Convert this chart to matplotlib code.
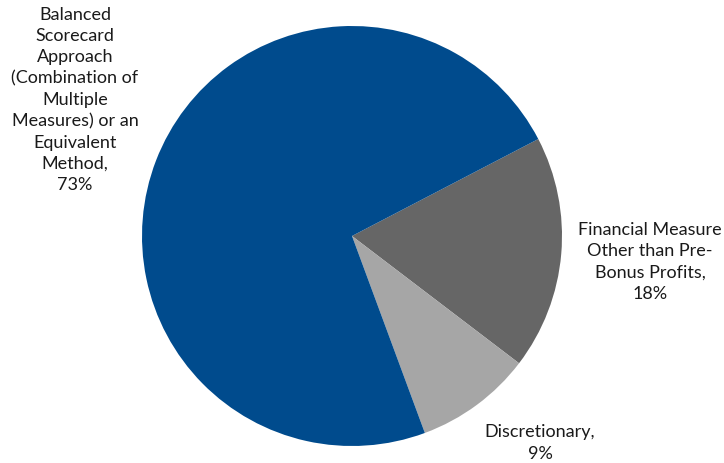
import matplotlib.pyplot as plt

labels = ["Financial Measure\nOther than Pre-\nBonus Profits,\n18%",
          "Discretionary,\n9%",
          "Balanced\nScorecard\nApproach\n(Combination of\nMultiple\nMeasures) or an\nEquivalent\nMethod,\n73%"]
values = [18, 9, 73]
colors = ["#666666", "#A6A6A6", "#004B8D"]

W, H = 724, 463
fig = plt.figure(figsize=(W / 100, H / 100), dpi=100)
plt.rcParams['font.family'] = ['Lato', 'DejaVu Sans']

# pie centre ~ (352, 236) px, radius ~210 px
ax = fig.add_axes([142 / W, (H - 446) / H, 420 / W, 420 / H])
ax.pie(values, colors=colors, startangle=27.5, counterclock=False,
       radius=1.0, wedgeprops=dict(linewidth=0))
ax.set_xlim(-1, 1)
ax.set_ylim(-1, 1)
ax.set_aspect('equal')
ax.set_axis_off()

# label positions in pixels (centre of text block)
label_pos = [(650, 262), (540, 443), (75, 100)]
for txt, (x, y) in zip(labels, label_pos):
    fig.text(x / W, 1 - y / H, txt, ha='center', va='center',
             fontsize=13, color='#1a1a1a', linespacing=1.4)

fig.savefig("out.png", dpi=100)
